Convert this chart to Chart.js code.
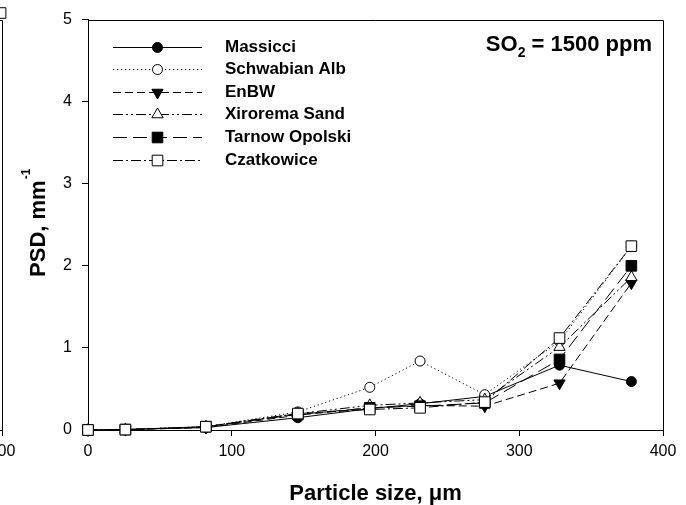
<!DOCTYPE html>
<html>
<head>
<meta charset="utf-8">
<script src="https://cdn.jsdelivr.net/npm/chart.js@4.4.1/dist/chart.umd.min.js"></script>
<style>
  html, body { margin: 0; padding: 0; background: #fff; overflow: hidden; }
  #wrap { position: relative; width: 686px; height: 505px; overflow: hidden; }
  #wrap canvas { position: absolute; top: 0; }
</style>
</head>
<body>
<div id="wrap">
  <canvas id="prevPanel" width="686" height="505" style="left:-661px"></canvas>
  <canvas id="psdChart" width="686" height="505" style="left:0"></canvas>
</div>
<script>
// particle size classes, µm
const sizes = [0, 26, 82, 146, 196, 231, 276, 328, 378];

// PSD, mm^-1 for each sorbent at SO2 = 1500 ppm
const massicci      = [0, 0.005, 0.03, 0.15, 0.26, 0.32, 0.41, 0.79, 0.59];
const schwabianAlb  = [0, 0.005, 0.04, 0.22, 0.52, 0.84, 0.43, 1.08, 2.24];
const enbw          = [0, 0.005, 0.03, 0.18, 0.27, 0.30, 0.29, 0.57, 1.79];
const xiroremaSand  = [0, 0.005, 0.04, 0.20, 0.30, 0.33, 0.37, 1.01, 1.86];
const tarnowOpolski = [0, 0.005, 0.04, 0.19, 0.27, 0.29, 0.33, 0.86, 2.00];
const czatkowice    = [0, 0.005, 0.04, 0.20, 0.25, 0.27, 0.34, 1.12, 2.24];

const seriesNames  = ['Massicci', 'Schwabian Alb', 'EnBW', 'Xirorema Sand', 'Tarnow Opolski', 'Czatkowice'];
const seriesValues = [massicci, schwabianAlb, enbw, xiroremaSand, tarnowOpolski, czatkowice];

const xTicks = [0, 100, 200, 300, 400];
const yTicks = [0, 1, 2, 3, 4, 5];

// neighbouring panel on the left, only its right edge shows
const prevSizes  = [399];
const prevValues = [5.08];

// line / symbol look per series
const lineDashes     = [[], [1.2, 2.8], [8, 4], [10, 3, 2, 3, 2, 3], [14, 6], [10, 3, 2, 3]];
const markerStyles   = ['circle', 'circle', 'triangle', 'triangle', 'rect', 'rect'];
const markerFilled   = [true, false, true, false, true, false];
const markerRotation = [0, 0, 180, 0, 0, 0];
const markerRadius   = [5, 5, 6.5, 6.5, 7.5, 7.5];

const FONT = 'Arial, "Liberation Sans", sans-serif';

function makeScales() {
    return {
        x: {
            type: 'linear', min: 0, max: 400,
            afterBuildTicks: s => { s.ticks = xTicks.map(v => ({ value: v })); },
            afterFit: s => { s.height = 75; },
            ticks: { color: '#000', font: { family: FONT, size: 16 }, padding: 6, maxRotation: 0, autoSkip: false },
            grid: { drawOnChartArea: false, tickLength: 6, color: '#000' },
            border: { color: '#000', width: 1 }
        },
        y: {
            type: 'linear', min: 0, max: 5,
            afterBuildTicks: s => { s.ticks = yTicks.map(v => ({ value: v })); },
            afterFit: s => { s.width = 88; },
            ticks: { color: '#000', font: { family: FONT, size: 16 }, padding: 10, autoSkip: false },
            grid: { drawOnChartArea: false, tickLength: 6, color: '#000' },
            border: { color: '#000', width: 1 }
        }
    };
}

// closes the box: top and right edges
const frame = {
    id: 'frame',
    afterDraw(chart) {
        const { ctx, chartArea: a } = chart;
        ctx.save();
        ctx.strokeStyle = '#000';
        ctx.lineWidth = 1;
        ctx.beginPath();
        ctx.moveTo(Math.round(a.left), Math.round(a.top) + 0.5);
        ctx.lineTo(Math.round(a.right) + 0.5, Math.round(a.top) + 0.5);
        ctx.lineTo(Math.round(a.right) + 0.5, Math.round(a.bottom));
        ctx.stroke();
        ctx.restore();
    }
};

// legend, SO2 note and axis titles (with sub/superscripts)
const annotations = {
    id: 'annotations',
    afterDraw(chart) {
        const { ctx, chartArea: a } = chart;
        ctx.save();

        seriesNames.forEach((name, i) => {
            const y = Math.round(a.top + 27 + i * 22.6) + 0.5;
            const x0 = a.left + 25, x1 = a.left + 114, xm = (x0 + x1) / 2;
            ctx.strokeStyle = '#000';
            ctx.lineWidth = 1;
            ctx.setLineDash(lineDashes[i]);
            ctx.beginPath();
            ctx.moveTo(x0, y);
            ctx.lineTo(x1, y);
            ctx.stroke();
            ctx.setLineDash([]);
            ctx.fillStyle = markerFilled[i] ? '#000' : '#fff';
            Chart.helpers.drawPoint(ctx, {
                pointStyle: markerStyles[i], rotation: markerRotation[i],
                radius: markerRadius[i], borderWidth: 1
            }, xm, y);
            ctx.fillStyle = '#000';
            ctx.font = 'bold 17px ' + FONT;
            ctx.textAlign = 'left';
            ctx.textBaseline = 'middle';
            ctx.fillText(name, a.left + 137, y);
        });

        // SO2 = 1500 ppm
        ctx.fillStyle = '#000';
        ctx.textBaseline = 'alphabetic';
        const big = 'bold 22px ' + FONT, small = 'bold 14px ' + FONT;
        ctx.font = big;
        const wSO = ctx.measureText('SO').width;
        const wRest = ctx.measureText(' = 1500 ppm').width;
        ctx.font = small;
        const w2 = ctx.measureText('2').width;
        let x = a.right - 11 - (wSO + w2 + wRest);
        const base = a.top + 31;
        ctx.font = big;   ctx.fillText('SO', x, base); x += wSO;
        ctx.font = small; ctx.fillText('2', x, base + 6); x += w2;
        ctx.font = big;   ctx.fillText(' = 1500 ppm', x, base);

        // y title
        ctx.save();
        ctx.translate(a.left - 43, (a.top + a.bottom) / 2 - 2);
        ctx.rotate(-Math.PI / 2);
        ctx.font = 'bold 22px ' + FONT;
        const wMain = ctx.measureText('PSD, mm').width;
        ctx.font = 'bold 12px ' + FONT;
        const wSup = ctx.measureText('-1').width;
        const tx = -(wMain + 1 + wSup) / 2;
        ctx.font = 'bold 22px ' + FONT;
        ctx.fillText('PSD, mm', tx, 0);
        ctx.font = 'bold 12px ' + FONT;
        ctx.fillText('-1', tx + wMain + 1, -15);
        ctx.restore();

        // x title
        ctx.font = 'bold 22px ' + FONT;
        ctx.textAlign = 'center';
        ctx.fillText('Particle size, \u03bcm', (a.left + a.right) / 2, a.bottom + 70);

        ctx.restore();
    }
};

const datasets = seriesNames.map((name, i) => ({
    label: name,
    data: sizes.map((s, k) => ({ x: s, y: seriesValues[i][k] })),
    borderColor: '#000',
    borderWidth: 1,
    borderDash: lineDashes[i],
    pointStyle: markerStyles[i],
    pointRadius: markerRadius[i],
    pointHoverRadius: markerRadius[i],
    pointRotation: markerRotation[i],
    pointBackgroundColor: markerFilled[i] ? '#000' : '#fff',
    pointBorderColor: '#000',
    pointBorderWidth: 1,
    tension: 0,
    fill: false,
    clip: false,
    order: seriesNames.length - i   // last series ends up on top
}));

const baseOptions = () => ({
    responsive: false,
    animation: false,
    devicePixelRatio: 1,
    layout: { padding: { left: 0, top: 17, right: 23, bottom: 0 } },
    plugins: { legend: { display: false }, tooltip: { enabled: false } },
    scales: makeScales()
});

new Chart(document.getElementById('psdChart'), {
    type: 'line',
    data: { datasets: datasets },
    options: baseOptions(),
    plugins: [frame, annotations]
});

new Chart(document.getElementById('prevPanel'), {
    type: 'line',
    data: {
        datasets: [{
            data: prevSizes.map((s, k) => ({ x: s, y: prevValues[k] })),
            borderColor: '#000', borderWidth: 1,
            pointStyle: 'rect', pointRadius: 7.5,
            pointBackgroundColor: '#fff', pointBorderColor: '#000', pointBorderWidth: 1,
            clip: false
        }]
    },
    options: baseOptions(),
    plugins: [frame]
});
</script>
</body>
</html>
